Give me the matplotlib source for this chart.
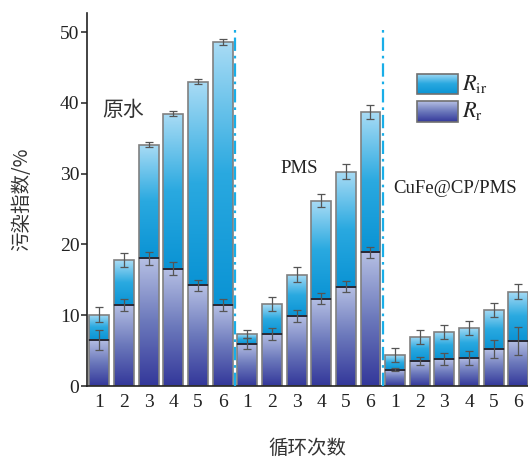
import numpy as np
import matplotlib
matplotlib.use("Agg")
import matplotlib.pyplot as plt
from matplotlib.colors import LinearSegmentedColormap
from matplotlib.patches import Rectangle

plt.rcParams['font.family'] = ['Liberation Serif', 'Noto Sans CJK SC']
plt.rcParams['mathtext.fontset'] = 'stix'
plt.rcParams['text.color'] = '#222222'
plt.rcParams['xtick.color'] = '#222222'
plt.rcParams['ytick.color'] = '#222222'

# cycles 1-6 for each of the three systems
cycles = ['1', '2', '3', '4', '5', '6'] * 3
groups = ['原水', 'PMS', 'CuFe@CP/PMS']

# total fouling index (R_r + R_ir) and reversible part R_r, in %
total = [10.1, 17.8, 34.1, 38.5, 43.0, 48.6,
         7.35, 11.6, 15.75, 26.2, 30.3, 38.7,
         4.35, 6.93, 7.6, 8.25, 10.75, 13.35]
total_err = [1.0, 1.0, 0.37, 0.35, 0.4, 0.47,
             0.57, 1.0, 1.0, 0.87, 1.0, 1.0,
             1.0, 0.95, 1.0, 1.0, 1.0, 1.0]
rr = [6.5, 11.45, 18.05, 16.6, 14.2, 11.4,
      6.0, 7.4, 9.9, 12.35, 14.0, 18.9,
      2.3, 3.5, 3.78, 4.0, 5.2, 6.4]
rr_err = [1.35, 0.9, 0.95, 0.85, 0.82, 0.85,
          0.8, 0.83, 0.83, 0.8, 0.78, 0.75,
          0.24, 0.57, 0.83, 1.0, 1.23, 1.96]

rir = [t - r for t, r in zip(total, rr)]
x = np.arange(len(total))
w = 0.81

# vertical gradients, dark at the bottom and light at the top
cmap_ir = LinearSegmentedColormap.from_list('ir', ['#0a93d4', '#2aa9e0', '#aadcf5'])
cmap_r = LinearSegmentedColormap.from_list('r', ['#33379a', '#6b78bb', '#b6c0e4'])
grad = np.linspace(1, 0, 256).reshape(-1, 1)


def fill_gradient(ax, patch, cmap):
    x0, y0 = patch.get_xy()
    im = ax.imshow(grad, cmap=cmap, aspect='auto', origin='upper',
                   extent=[x0, x0 + patch.get_width(), y0, y0 + patch.get_height()],
                   zorder=1, interpolation='bilinear')
    im.set_clip_path(patch)


fig = plt.figure(figsize=(5.28, 4.58), dpi=100)
ax = fig.add_axes([0.1648, 0.1572, 0.8352, 0.8144])

bars_r = ax.bar(x, rr, width=w, facecolor='none', edgecolor='#808080', lw=1.2, zorder=2)
bars_ir = ax.bar(x, rir, width=w, bottom=rr, facecolor='none', edgecolor='#808080', lw=1.2, zorder=2)
for p in bars_r:
    fill_gradient(ax, p, cmap_r)
for p in bars_ir:
    fill_gradient(ax, p, cmap_ir)
ax.hlines(rr, x - w / 2, x + w / 2, color='#1a1a2a', lw=1.2, zorder=3)

ax.errorbar(x, total, yerr=total_err, fmt='none', ecolor='#555555',
            elinewidth=0.9, capsize=3, capthick=0.9, zorder=4)
ax.errorbar(x, rr, yerr=rr_err, fmt='none', ecolor='#555555',
            elinewidth=0.9, capsize=3, capthick=0.9, zorder=4)

# separators between the three systems
ax.vlines([5.5, 11.5], 0, 50.6, colors='#19aee8', lw=1.6,
          linestyles=[(0, (6, 2.2, 1.2, 2.2))], zorder=3)

ax.text(0.11, 38.8, groups[0], fontsize=15, va='center', ha='left', color='#333333')
ax.text(7.36, 30.7, groups[1], fontsize=13.5, va='center', ha='left')
ax.text(11.93, 27.9, groups[2], fontsize=13.5, va='center', ha='left')

# legend drawn by hand so the swatches keep their gradients
for (y0, y1), cmap, lab in [((41.2, 44.1), cmap_ir, r'$R_{\rm ir}$'),
                            ((37.35, 40.3), cmap_r, r'$R_{\rm r}$')]:
    sw = Rectangle((12.9, y0), 1.66, y1 - y0, facecolor='none',
                   edgecolor='#707070', lw=1.2, zorder=5)
    ax.add_patch(sw)
    fill_gradient(ax, sw, cmap)
    ax.text(14.7, (y0 + y1) / 2, lab, fontsize=16, va='center', ha='left')

ax.set_xlim(-0.5, 17.39)
ax.set_ylim(0, 52.7)
ax.set_xticks(x)
ax.set_xticklabels(cycles, fontsize=14)
ax.set_yticks([0, 10, 20, 30, 40, 50])
ax.tick_params(axis='x', length=0, pad=6)
ax.tick_params(axis='y', length=4, width=1.1, pad=1.5, labelsize=14)
for s in ['top', 'right']:
    ax.spines[s].set_visible(False)
for s in ['left', 'bottom']:
    ax.spines[s].set_linewidth(1.2)
    ax.spines[s].set_color('#222222')

ax.set_xlabel('循环次数', fontsize=14, family=['Noto Sans CJK SC'], labelpad=19, color='#333333')
ax.set_ylabel('污染指数/%', fontsize=14, family=['Noto Sans CJK SC', 'Liberation Serif'],
              labelpad=20, color='#333333')

fig.savefig('out.png', dpi=100)
